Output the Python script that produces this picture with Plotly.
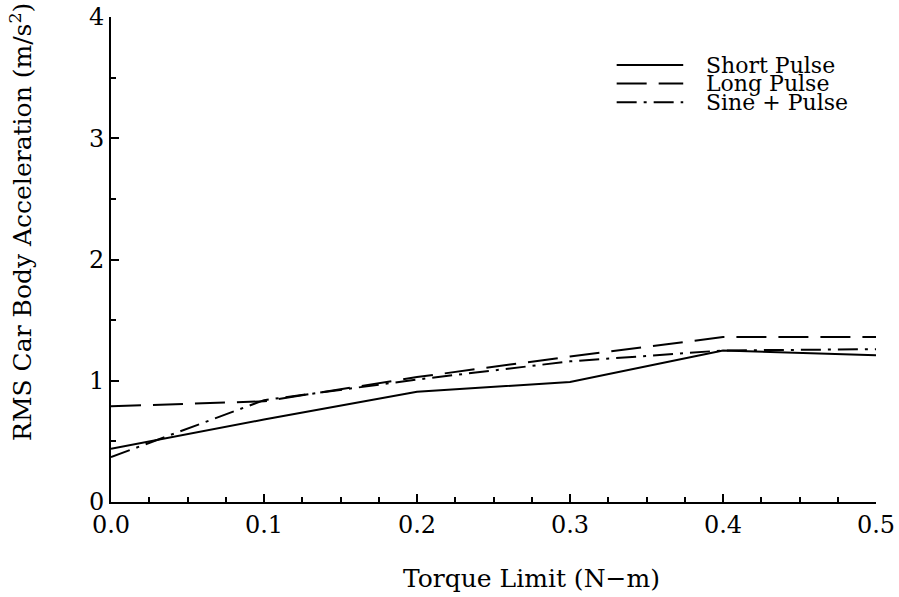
import plotly.graph_objects as go

# Torque limit settings (N-m)
torque = [0.0, 0.1, 0.2, 0.3, 0.4, 0.5]

# RMS car body acceleration (m/s^2) for each excitation
short_pulse = [0.44, 0.68, 0.91, 0.99, 1.25, 1.21]
long_pulse = [0.79, 0.83, 1.03, 1.20, 1.36, 1.36]
sine_pulse = [0.37, 0.84, 1.01, 1.16, 1.25, 1.26]

series_names = ["Short Pulse", "Long Pulse", "Sine + Pulse"]
dashes = ["solid", "30px,12px", "20px,7px,3px,7px"]

FONT = "DejaVu Serif"

fig = go.Figure()
for name, vals, dash in zip(series_names, [short_pulse, long_pulse, sine_pulse], dashes):
    fig.add_trace(go.Scatter(
        x=torque, y=vals, mode="lines", name=name,
        line=dict(color="black", width=2, dash=dash),
        showlegend=False,
    ))

# Hand-built legend in the upper right
legend_y = [0.901, 0.863, 0.824]
for name, dash, yy in zip(series_names, dashes, legend_y):
    fig.add_shape(type="line", xref="paper", yref="paper",
                  x0=0.661, x1=0.748, y0=yy, y1=yy,
                  line=dict(color="black", width=2, dash=dash))
    fig.add_annotation(xref="paper", yref="paper", x=0.775, y=yy,
                       text=name, showarrow=False, xanchor="left", yanchor="middle",
                       font=dict(family=FONT, size=22, color="black"))

# Axis titles
fig.add_annotation(xref="paper", yref="paper", x=0.55, y=-0.157,
                   text="Torque Limit (N\u2212m)", showarrow=False,
                   xanchor="center", yanchor="middle",
                   font=dict(family=FONT, size=25, color="black"))
fig.add_annotation(xref="paper", yref="paper", x=-0.118, y=0.577,
                   text="RMS Car Body Acceleration (m/s<sup>2</sup>)", showarrow=False,
                   textangle=-90, xanchor="center", yanchor="middle",
                   font=dict(family=FONT, size=25, color="black"))

fig.update_xaxes(
    range=[0, 0.5], dtick=0.1, tickformat=".1f", automargin=False,
    showline=True, linecolor="black", linewidth=2,
    ticks="inside", ticklen=8, tickwidth=1.5, tickcolor="black",
    minor=dict(dtick=0.025, ticks="inside", ticklen=5, tickwidth=1.5, tickcolor="black"),
    showgrid=False, zeroline=False,
    tickfont=dict(family=FONT, size=24, color="black"),
)
fig.update_yaxes(
    range=[0, 4], dtick=1, automargin=False,
    showline=True, linecolor="black", linewidth=2,
    ticks="inside", ticklen=8, tickwidth=1.5, tickcolor="black",
    minor=dict(dtick=0.5, ticks="inside", ticklen=5, tickwidth=1.5, tickcolor="black"),
    showgrid=False, zeroline=False,
    tickfont=dict(family=FONT, size=24, color="black"),
)

fig.update_layout(
    width=899, height=597,
    margin=dict(l=111, r=23, t=17, b=95, autoexpand=False),
    paper_bgcolor="white", plot_bgcolor="white",
    showlegend=False,
)

fig.write_html("out.html")
